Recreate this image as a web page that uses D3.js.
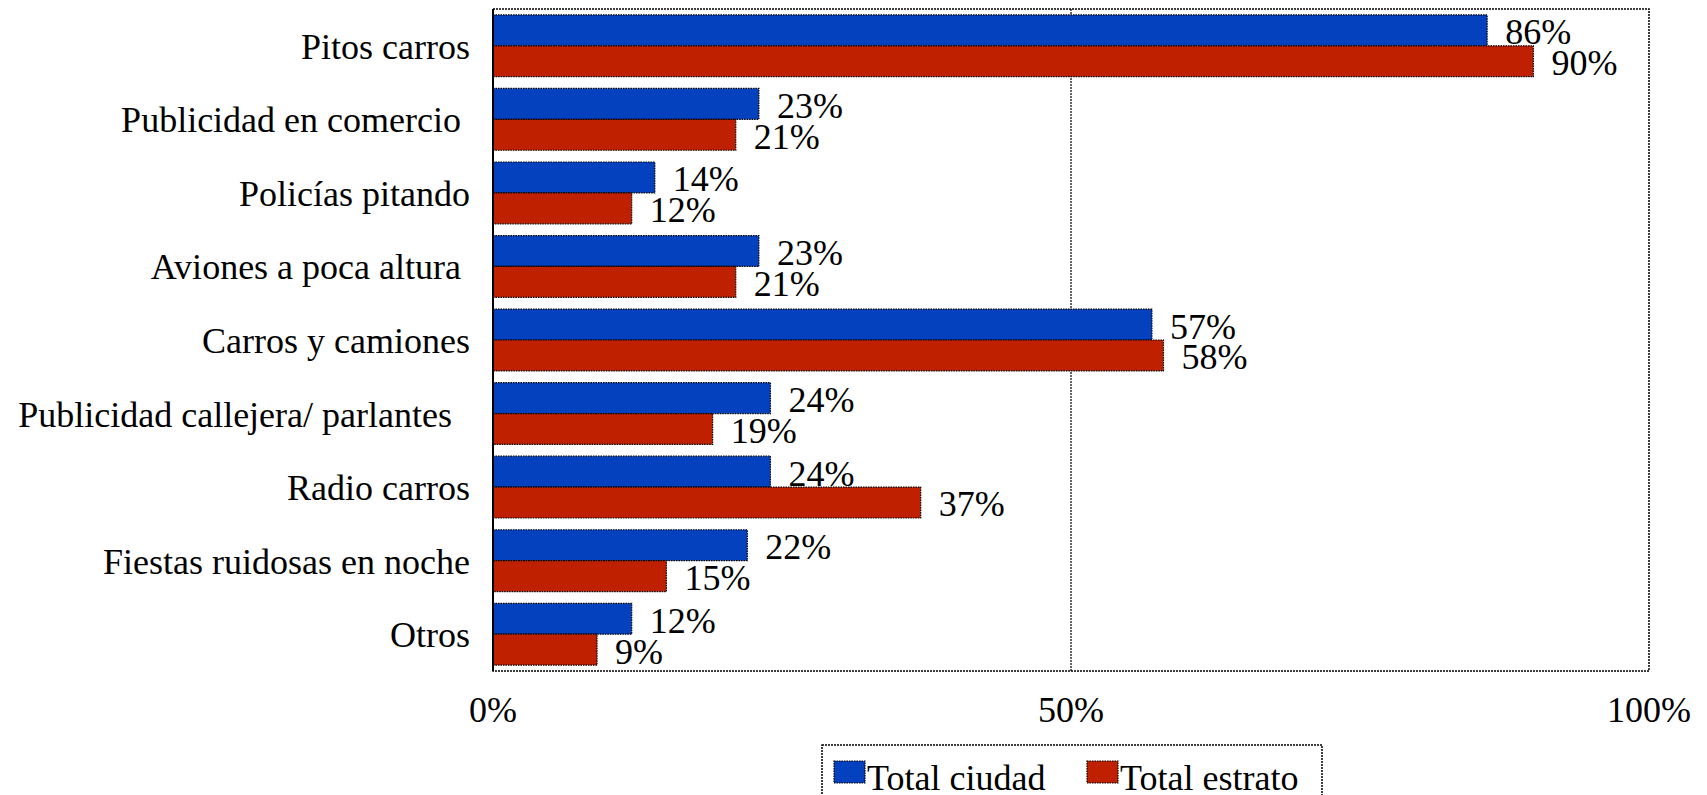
<!DOCTYPE html>
<html>
<head>
<meta charset="utf-8">
<script src="https://cdn.jsdelivr.net/npm/d3@7"></script>
</head>
<body style="margin:0;background:#fff">
<svg id="chart" width="1707" height="795" font-family="Liberation Serif" style="font-family:'Liberation Serif',serif"></svg>
<script>
const categories = [
  "Pitos carros",
  "Publicidad en comercio\u00A0",
  "Policías pitando",
  "Aviones a poca altura\u00A0",
  "Carros y camiones",
  "Publicidad callejera/ parlantes\u00A0\u00A0",
  "Radio carros",
  "Fiestas ruidosas en noche",
  "Otros"
];
const seriesNames = ["Total ciudad", "Total estrato"];
const totalCiudad  = [0.86, 0.23, 0.14, 0.23, 0.57, 0.24, 0.24, 0.22, 0.12];
const totalEstrato = [0.90, 0.21, 0.12, 0.21, 0.58, 0.19, 0.37, 0.15, 0.09];
const xTicks = [0, 0.5, 1];
const colors = ["#0341BF", "#BF2000"];

const svg = d3.select("#chart");
const plot = { left: 493, right: 1649, top: 9, bottom: 671 };
const FS = 36;

function txt(sel) {
  return sel.attr("font-family", "Liberation Serif").attr("font-size", FS).attr("fill", "#000");
}

const x = d3.scaleLinear().domain([0, 1]).range([plot.left, plot.right]);
const y = d3.scaleBand().domain(categories).range([plot.top, plot.bottom])
  .paddingInner(0.16).paddingOuter(0.08);
const ySub = d3.scaleBand().domain(seriesNames).range([0, y.bandwidth()]);

const rows = categories.map((c, i) => ({ cat: c, vals: [totalCiudad[i], totalEstrato[i]] }));

// gridline at 50%
svg.append("g").selectAll("line").data(xTicks.filter(t => t > 0 && t < 1)).join("line")
  .attr("x1", d => x(d)).attr("x2", d => x(d))
  .attr("y1", plot.top).attr("y2", plot.bottom)
  .attr("stroke", "#000").attr("stroke-width", 1.2).attr("stroke-dasharray", "2,1");

// bars
const g = svg.append("g").selectAll("g").data(rows).join("g")
  .attr("transform", d => `translate(0,${y(d.cat)})`);

g.selectAll("rect").data(d => d.vals.map((v, k) => ({ v, s: seriesNames[k], k }))).join("rect")
  .attr("x", x(0))
  .attr("y", d => ySub(d.s))
  .attr("width", d => x(d.v) - x(0))
  .attr("height", ySub.bandwidth())
  .attr("fill", d => colors[d.k])
  .attr("stroke", "#000").attr("stroke-width", 1.2).attr("stroke-dasharray", "1.5,1");

g.selectAll("text").data(d => d.vals.map((v, k) => ({ v, s: seriesNames[k], k }))).join("text")
  .attr("x", d => x(d.v) + 18)
  .attr("y", d => ySub(d.s) + ySub.bandwidth() - 1.5)
  .call(txt)
  .text(d => d3.format(".0%")(d.v));

// plot frame
svg.append("rect")
  .attr("x", plot.left).attr("y", plot.top)
  .attr("width", plot.right - plot.left).attr("height", plot.bottom - plot.top)
  .attr("fill", "none").attr("stroke", "#000").attr("stroke-width", 1.5).attr("stroke-dasharray", "2,1");
svg.append("line")
  .attr("x1", plot.left).attr("x2", plot.left).attr("y1", plot.top).attr("y2", plot.bottom)
  .attr("stroke", "#000").attr("stroke-width", 2);

// category labels
svg.append("g").selectAll("text").data(categories).join("text")
  .attr("x", 470)
  .attr("y", d => y(d) + y.bandwidth() / 2 + 13)
  .attr("text-anchor", "end")
  .call(txt)
  .text(d => d);

// x tick labels
svg.append("g").selectAll("text").data(xTicks).join("text")
  .attr("x", d => x(d))
  .attr("y", 722)
  .attr("text-anchor", "middle")
  .call(txt)
  .text(d => d3.format(".0%")(d));

// legend
const lg = svg.append("g");
lg.append("rect")
  .attr("x", 822).attr("y", 745).attr("width", 500).attr("height", 60)
  .attr("fill", "#fff").attr("stroke", "#000").attr("stroke-width", 1.5).attr("stroke-dasharray", "2,1");
const legendX = [834, 1087];
const items = lg.selectAll("g.item").data(seriesNames).join("g").attr("class", "item")
  .attr("transform", (d, i) => `translate(${legendX[i]},761)`);
items.append("rect")
  .attr("width", 31).attr("height", 22)
  .attr("fill", (d, i) => colors[i])
  .attr("stroke", "#000").attr("stroke-width", 1.2).attr("stroke-dasharray", "1.5,1");
items.append("text")
  .attr("x", 33).attr("y", 29)
  .call(txt)
  .text(d => d);
</script>
</body>
</html>
